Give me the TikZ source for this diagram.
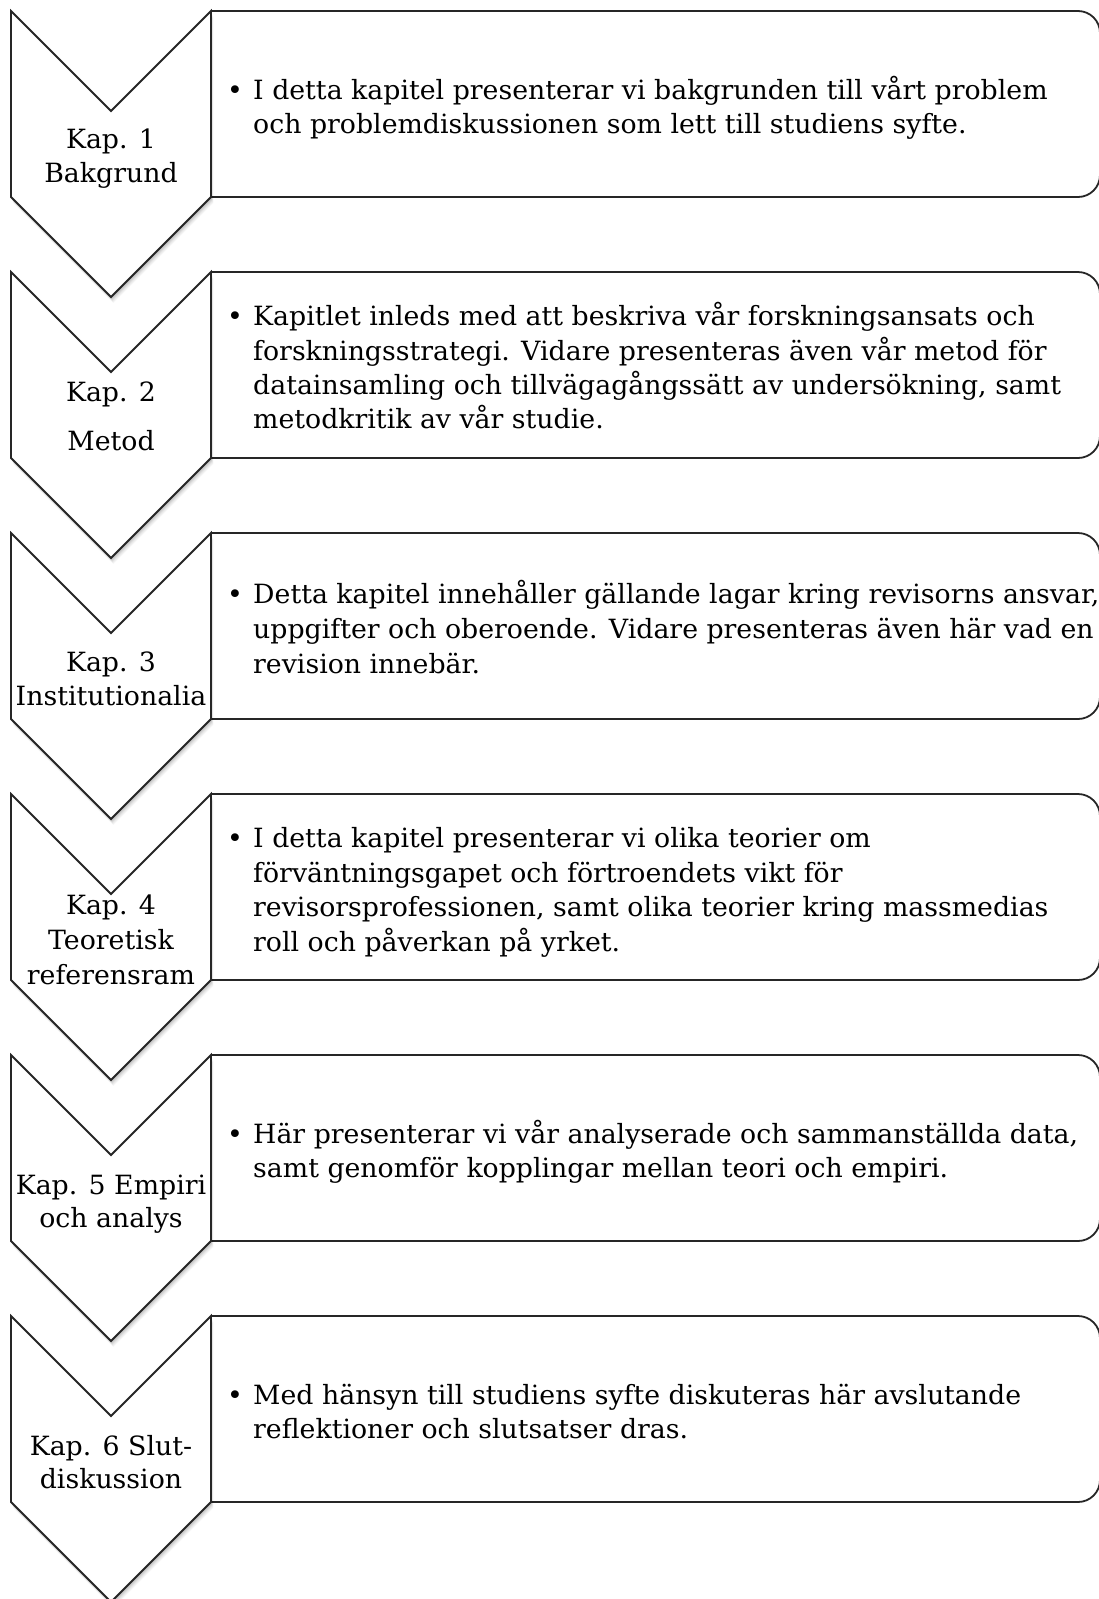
\documentclass[tikz,border=0pt]{standalone}
\usepackage{fontspec}
\setmainfont{DejaVu Serif}[FakeStretch=1.01]
\begin{document}
\begin{tikzpicture}[x=1pt,y=-1pt]
\useasboundingbox (0,0) rectangle (1099,1599);
\tikzset{
  outl/.style={draw=black!85, line width=1.8pt, fill=white, line join=miter},
  kap/.style={anchor=base, inner sep=0pt, font=\fontsize{26.5}{32}\selectfont},
  txt/.style={anchor=base west, inner sep=0pt, font=\fontsize{26.5}{32}\selectfont},
  bul/.style={anchor=base, inner sep=0pt, font=\fontsize{26.5}{32}\selectfont},
}
\foreach \y in {11,272,533,794,1055,1316}{
  % text box, rounded on the right only
  \path[outl, rounded corners=22pt] (211,\y) -- (1100,\y) -- (1100,\y+186) -- (211,\y+186);
  % soft shadow of chevron
  \foreach \s/\o in {6/0.03,5/0.04,4/0.05,3/0.06,2/0.07}{
    \fill[black, opacity=\o] (11+0.4*\s,\y+\s) -- (111+0.4*\s,\y+100+\s) -- (211+0.4*\s,\y+\s) -- (211+0.4*\s,\y+186+\s) -- (111+0.4*\s,\y+286+\s) -- (11+0.4*\s,\y+186+\s) -- cycle;
  }
  % chevron
  \path[outl] (11,\y) -- (111,\y+100) -- (211,\y) -- (211,\y+186) -- (111,\y+286) -- (11,\y+186) -- cycle;
}
% chevron labels
\node[kap] (k1a) at (111,148) {Kap. 1};
\node[kap] (k1b) at (111,182) {Bakgrund};
\node[kap] (k2a) at (111,401) {Kap. 2};
\node[kap] (k2b) at (111,450) {Metod};
\node[kap] (k3a) at (111,671) {Kap. 3};
\node[kap] (k3b) at (111,705) {Institutionalia};
\node[kap] (k4a) at (111,914) {Kap. 4};
\node[kap] (k4b) at (111,949) {Teoretisk};
\node[kap] (k4c) at (111,984) {referensram};
\node[kap] (k5a) at (111,1194) {Kap. 5 Empiri};
\node[kap] (k5b) at (111,1227) {och analys};
\node[kap] (k6a) at (111,1455) {Kap. 6 Slut-};
\node[kap] (k6b) at (111,1488) {diskussion};
% bullets
\node[bul] (b1) at (235,99) {•};
\node[bul] (b2) at (235,325) {•};
\node[bul] (b3) at (235,603) {•};
\node[bul] (b4) at (235,847) {•};
\node[bul] (b5) at (235,1143) {•};
\node[bul] (b6) at (235,1404) {•};
% box texts
\node[txt] (t1a) at (253,99) {I detta kapitel presenterar vi bakgrunden till vårt problem};
\node[txt] (t1b) at (253,133) {och problemdiskussionen som lett till studiens syfte.};
\node[txt] (t2a) at (253,325) {Kapitlet inleds med att beskriva vår forskningsansats och};
\node[txt] (t2b) at (253,360) {forskningsstrategi. Vidare presenteras även vår metod för};
\node[txt] (t2c) at (253,394) {datainsamling och tillvägagångssätt av undersökning, samt};
\node[txt] (t2d) at (253,428) {metodkritik av vår studie.};
\node[txt] (t3a) at (253,603) {Detta kapitel innehåller gällande lagar kring revisorns ansvar,};
\node[txt] (t3b) at (253,638) {uppgifter och oberoende. Vidare presenteras även här vad en};
\node[txt] (t3c) at (253,673) {revision innebär.};
\node[txt] (t4a) at (253,847) {I detta kapitel presenterar vi olika teorier om};
\node[txt] (t4b) at (253,882) {förväntningsgapet och förtroendets vikt för};
\node[txt] (t4c) at (253,916) {revisorsprofessionen, samt olika teorier kring massmedias};
\node[txt] (t4d) at (253,951) {roll och påverkan på yrket.};
\node[txt] (t5a) at (253,1143) {Här presenterar vi vår analyserade och sammanställda data,};
\node[txt] (t5b) at (253,1177) {samt genomför kopplingar mellan teori och empiri.};
\node[txt] (t6a) at (253,1404) {Med hänsyn till studiens syfte diskuteras här avslutande};
\node[txt] (t6b) at (253,1438) {reflektioner och slutsatser dras.};
\end{tikzpicture}
\end{document}
